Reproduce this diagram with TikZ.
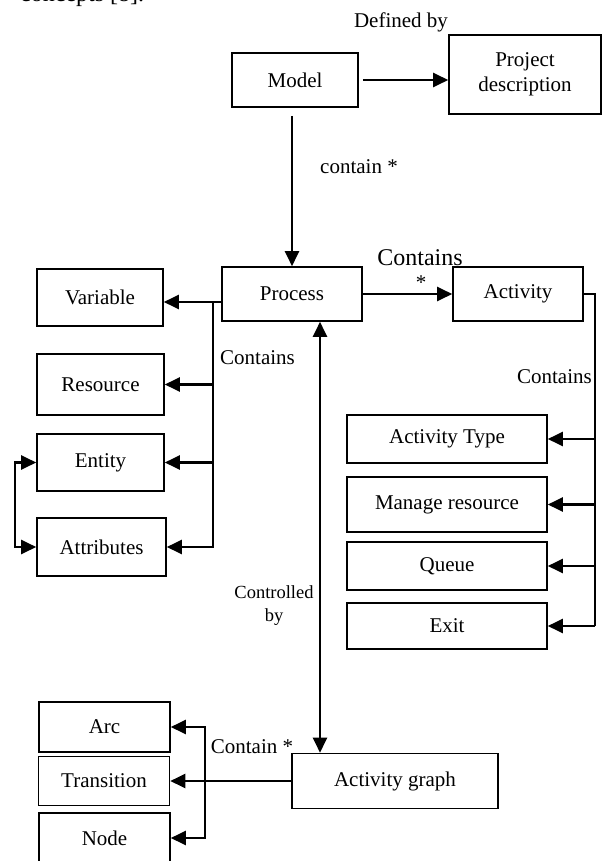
\documentclass[tikz,border=0pt]{standalone}
\usepackage{fontspec}
\setmainfont{Liberation Serif}
\usetikzlibrary{arrows.meta}

\begin{document}
\begin{tikzpicture}[x=1pt,y=-1pt,
    box/.style={draw,line width=1.6pt,inner sep=0pt,align=center,
        font=\fontsize{21}{25}\selectfont},
    lbl/.style={inner sep=0pt,align=center,font=\fontsize{21}{25}\selectfont},
    arr/.style={line width=2.2pt,-{Triangle[length=15pt,width=14pt]}},
    biarr/.style={line width=2.2pt,
        {Triangle[length=15pt,width=14pt]}-{Triangle[length=15pt,width=14pt]}}]
    \useasboundingbox (0,0) rectangle (603,861);
    \node[lbl,font=\fontsize{24}{28}\selectfont,anchor=base west] (concepts) at (20,2) {concepts [8].};
    \node[box,minimum width=126pt,minimum height=54pt] (model) at (295,80) {Model};
    \node[box,minimum width=152pt,minimum height=79pt] (project) at (525,74.5) {Project\\description};
    \node[lbl] (definedby) at (401,22) {Defined by};
    \node[box,minimum width=140pt,minimum height=54pt] (process) at (292,294) {Process};
    \node[box,minimum width=130pt,minimum height=54pt] (activity) at (518,294) {Activity};
    \node[lbl] (containmodel) at (359,167) {contain *};
    \node[lbl,font=\fontsize{24}{28}\selectfont] (containsact) at (420,258) {Contains};
    \node[lbl] (star) at (421,283) {*};
    \node[box,minimum width=126pt,minimum height=57pt] (variable) at (100,297.5) {Variable};
    \node[box,minimum width=127pt,minimum height=61pt] (resource) at (100.5,384.5) {Resource};
    \node[box,minimum width=127pt,minimum height=57pt] (entity) at (100.5,462.5) {Entity};
    \node[box,minimum width=129pt,minimum height=58pt] (attributes) at (101.5,547) {Attributes};
    \node[lbl,anchor=west] (containsleft) at (220,358) {Contains};
    \node[box,minimum width=200pt,minimum height=48pt] (acttype) at (447,439) {Activity Type};
    \node[box,minimum width=200pt,minimum height=55pt] (manage) at (447,504.5) {Manage resource};
    \node[box,minimum width=200pt,minimum height=48pt] (queue) at (447,566) {Queue};
    \node[box,minimum width=200pt,minimum height=46pt] (exit) at (447,626) {Exit};
    \node[lbl,anchor=east] (containsright) at (592,377) {Contains};
    \node[lbl,font=\fontsize{18.5}{23}\selectfont] (controlled) at (274,606) {Controlled\\by};
    \node[box,minimum width=206pt,minimum height=55pt] (actgraph) at (395,781) {Activity graph};
    \node[box,minimum width=131pt,minimum height=50pt] (arc) at (104.5,727) {Arc};
    \node[box,minimum width=131pt,minimum height=49pt] (transition) at (104,781) {Transition};
    \node[box,minimum width=131pt,minimum height=50pt] (node) at (104.5,838) {Node};
    \node[lbl] (containgraph) at (252,747) {Contain *};
    \coordinate (mdown) at ([yshift=-8pt]model.south);
    \coordinate (pbus) at (213,302);
    \coordinate (eloop) at (15,505);
    \coordinate (abus) at (595,294);
    \coordinate (ctl) at (320,500);
    \coordinate (gbus) at (205,781);
    \draw[arr] ([xshift=4pt]model.east) -- (project.west |- model.east);
    \draw[arr] (mdown -| process.north) -- (process.north);
    \draw[arr] (process) -- (activity);
    \draw[arr] (process.west |- pbus) -- (variable.east |- pbus);
    \draw[arr] (pbus) |- (attributes.east);
    \draw[arr] (pbus |- resource) -- (resource.east);
    \draw[arr] (pbus |- entity) -- (entity.east);
    \draw[biarr] (entity.west) -| (eloop) |- (attributes.west);
    \draw[line width=1.4pt] (activity.east) -- (abus) -- (abus |- exit);
    \draw[arr] (abus |- acttype) -- (acttype.east);
    \draw[arr] (abus |- manage) -- (manage.east);
    \draw[arr] (abus |- queue) -- (queue.east);
    \draw[arr] (abus |- exit) -- (exit.east);
    \draw[biarr] (process.south -| ctl) -- (actgraph.north -| ctl);
    \draw[arr] (actgraph) -- (transition);
    \draw[biarr] (arc.east) -| (gbus) |- (node.east);
\end{tikzpicture}
\end{document}
